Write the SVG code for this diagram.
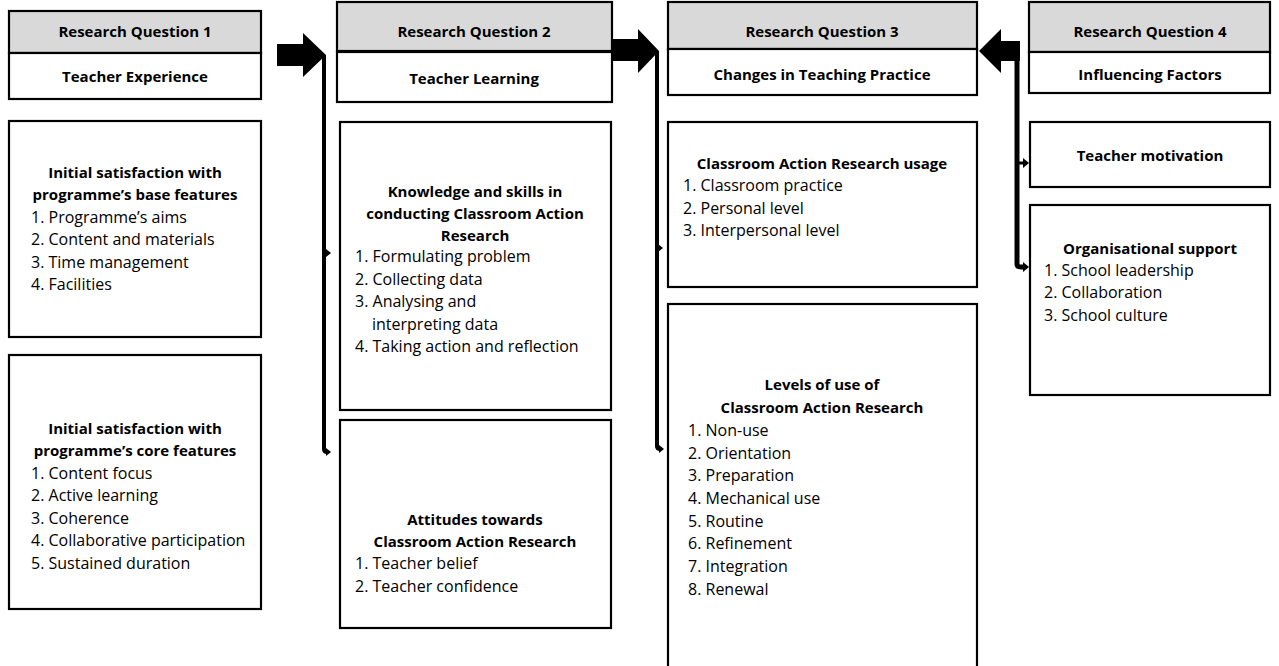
<svg xmlns="http://www.w3.org/2000/svg" width="1279" height="666" viewBox="0 0 1279 666">
<style>
.hd{fill:#d9d9d9;stroke:#000;stroke-width:2.2}
.bx{fill:#fff;stroke:#000;stroke-width:2.2}
text{font-family:"Open Sans","Liberation Sans",sans-serif;font-size:16px;fill:#000}
.b{font-weight:bold;text-anchor:middle;font-size:15px}
.ln{fill:none;stroke:#000;stroke-width:4}
.ah{fill:#000}
</style>
<rect width="1279" height="666" fill="#fff"/>
<g id="rq1">
<rect class="hd" x="9" y="11" width="252" height="42"/>
<rect class="bx" x="9" y="53" width="252" height="46"/>
<text class="b" x="135" y="37">Research Question 1</text>
<text class="b" x="135" y="82">Teacher Experience</text>
</g>
<g id="rq1-base">
<rect class="bx" x="9" y="121" width="252" height="216"/>
<text class="b" x="135" y="178">Initial satisfaction with</text>
<text class="b" x="135" y="200">programme’s base features</text>
<text x="31" y="223">1. Programme’s aims</text>
<text x="31" y="245">2. Content and materials</text>
<text x="31" y="268">3. Time management</text>
<text x="31" y="290">4. Facilities</text>
</g>
<g id="rq1-core">
<rect class="bx" x="9" y="355" width="252" height="254"/>
<text class="b" x="135" y="434">Initial satisfaction with</text>
<text class="b" x="135" y="456">programme’s core features</text>
<text x="31" y="479">1. Content focus</text>
<text x="31" y="501">2. Active learning</text>
<text x="31" y="524">3. Coherence</text>
<text x="31" y="546">4. Collaborative participation</text>
<text x="31" y="569">5. Sustained duration</text>
</g>
<g id="rq2">
<rect class="hd" x="337" y="2" width="275" height="49"/>
<rect class="bx" x="337" y="52" width="275" height="50"/>
<text class="b" x="474" y="37">Research Question 2</text>
<text class="b" x="474" y="84">Teacher Learning</text>
</g>
<g id="rq2-knowledge">
<rect class="bx" x="340" y="122" width="271" height="288"/>
<text class="b" x="475" y="197">Knowledge and skills in</text>
<text class="b" x="475" y="219">conducting Classroom Action</text>
<text class="b" x="475" y="241">Research</text>
<text x="355" y="262">1. Formulating problem</text>
<text x="355" y="285">2. Collecting data</text>
<text x="355" y="307">3. Analysing and</text>
<text x="372" y="330">interpreting data</text>
<text x="355" y="352">4. Taking action and reflection</text>
</g>
<g id="rq2-attitudes">
<rect class="bx" x="340" y="420" width="271" height="208"/>
<text class="b" x="475" y="525">Attitudes towards</text>
<text class="b" x="475" y="547">Classroom Action Research</text>
<text x="355" y="569">1. Teacher belief</text>
<text x="355" y="592">2. Teacher confidence</text>
</g>
<g id="rq3">
<rect class="hd" x="668" y="2" width="309" height="47"/>
<rect class="bx" x="668" y="49" width="309" height="46"/>
<text class="b" x="822" y="37">Research Question 3</text>
<text class="b" x="822" y="80">Changes in Teaching Practice</text>
</g>
<g id="rq3-usage">
<rect class="bx" x="668" y="122" width="309" height="165"/>
<text class="b" x="822" y="169">Classroom Action Research usage</text>
<text x="683" y="191">1. Classroom practice</text>
<text x="683" y="214">2. Personal level</text>
<text x="683" y="236">3. Interpersonal level</text>
</g>
<g id="rq3-levels">
<rect class="bx" x="668" y="304" width="309" height="370"/>
<text class="b" x="822" y="390">Levels of use of</text>
<text class="b" x="822" y="413">Classroom Action Research</text>
<text x="688" y="436">1. Non-use</text>
<text x="688" y="459">2. Orientation</text>
<text x="688" y="481">3. Preparation</text>
<text x="688" y="504">4. Mechanical use</text>
<text x="688" y="527">5. Routine</text>
<text x="688" y="549">6. Refinement</text>
<text x="688" y="572">7. Integration</text>
<text x="688" y="595">8. Renewal</text>
</g>
<g id="rq4">
<rect class="hd" x="1029" y="2" width="241" height="50"/>
<rect class="bx" x="1029" y="52" width="241" height="41"/>
<text class="b" x="1150" y="37">Research Question 4</text>
<text class="b" x="1150" y="80">Influencing Factors</text>
</g>
<g id="rq4-motivation">
<rect class="bx" x="1030" y="122" width="240" height="65"/>
<text class="b" x="1150" y="161">Teacher motivation</text>
</g>
<g id="rq4-support">
<rect class="bx" x="1030" y="205" width="240" height="190"/>
<text class="b" x="1150" y="254">Organisational support</text>
<text x="1044" y="276">1. School leadership</text>
<text x="1044" y="298">2. Collaboration</text>
<text x="1044" y="321">3. School culture</text>
</g>
<g id="connectors">
<polygon class="ah" points="277,44 303,44 303,33 326,55 303,77 303,66 277,66"/>
<path class="ln" d="M324,55 V449 Q324,452 327,452"/>
<polygon class="ah" points="326,249 331,253 326,257"/>
<polygon class="ah" points="326,448 331,452 326,456"/>
<polygon class="ah" points="612,39 638,39 638,29 659,51 638,73 638,61 612,61"/>
<path class="ln" d="M657,51 V446 Q657,449 660,449"/>
<polygon class="ah" points="658,244 663,248 658,252"/>
<polygon class="ah" points="659,445 664,449 659,453"/>
<polygon class="ah" points="979,51 1001,29 1001,41 1020,41 1020,61 1001,61 1001,73"/>
<path class="ln" d="M1017,41 V264 Q1017,267 1021,267 H1024" style="stroke-width:5"/>
<path class="ln" d="M1019,163 H1024" style="stroke-width:3"/>
<polygon class="ah" points="1023,158 1029,163 1023,168"/>
<polygon class="ah" points="1023,262 1029,267 1023,272"/>
</g>
</svg>
